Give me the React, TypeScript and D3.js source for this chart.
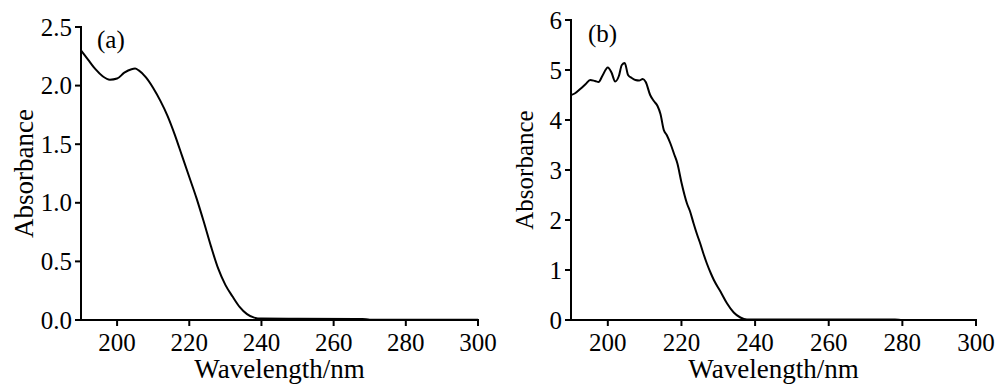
import * as d3 from 'd3';

// panel (a) spectrum
const wavelengthA = [190, 192, 194, 196, 198, 200, 202, 204, 205, 206, 208, 210, 212, 214, 216, 218, 220, 222, 224, 226, 228, 230, 232, 234, 236, 238, 240, 250, 268, 270, 300];
const absorbanceA = [2.30, 2.22, 2.14, 2.08, 2.05, 2.06, 2.11, 2.14, 2.145, 2.13, 2.07, 1.98, 1.87, 1.74, 1.58, 1.40, 1.22, 1.04, 0.84, 0.63, 0.44, 0.30, 0.20, 0.11, 0.05, 0.02, 0.012, 0.01, 0.008, 0.003, 0.003];

// panel (b) spectrum
const wavelengthB = [190, 191, 192.5, 194, 195.2, 196.5, 197.5, 198.5, 200, 201, 202, 203, 203.8, 204.6, 205.5, 206.5, 207.5, 208.5, 209.5, 210.3, 211.5, 212.5, 213.5, 214.3, 215.2, 216, 217, 218, 218.9, 220, 221.5, 222.3, 223.3, 224.2, 225.1, 226, 226.9, 228, 228.8, 230.6, 232.4, 234.2, 236, 237.8, 278, 280, 300];
const absorbanceB = [4.50, 4.53, 4.62, 4.72, 4.80, 4.78, 4.76, 4.88, 5.05, 4.95, 4.77, 4.88, 5.10, 5.14, 4.90, 4.84, 4.80, 4.79, 4.82, 4.76, 4.50, 4.38, 4.28, 4.12, 3.80, 3.70, 3.53, 3.32, 3.13, 2.75, 2.33, 2.18, 1.93, 1.72, 1.53, 1.32, 1.13, 0.93, 0.80, 0.57, 0.33, 0.15, 0.05, 0.01, 0.01, 0.002, 0.002];

const xTicks = [200, 220, 240, 260, 280, 300];
const yTicksA = [0, 0.5, 1.0, 1.5, 2.0, 2.5];
const yTicksB = [0, 1, 2, 3, 4, 5, 6];

const SERIF = '"Liberation Serif", Tinos, "Nimbus Roman", FreeSerif';

interface PanelProps {
  left: number;
  right: number;
  top: number;
  bottom: number;
  yMax: number;
  yTicks: number[];
  yFormat: (d: number) => string;
  xs: number[];
  ys: number[];
  tag: string;
  tagX: number;
  tagY: number;
  yLabelX: number;
  yLabelSize: number;
}

function Panel(p: PanelProps) {
  const x = d3.scaleLinear().domain([190, 300]).range([p.left, p.right]);
  const y = d3.scaleLinear().domain([0, p.yMax]).range([p.bottom, p.top]);
  const pts = p.xs.map((w, i) => [w, p.ys[i]] as [number, number]);
  const line = d3.line<[number, number]>()
    .x(d => x(d[0]))
    .y(d => y(d[1]))
    .curve(d3.curveMonotoneX);

  return (
    <g>
      <line x1={p.left} x2={p.left} y1={p.top - 1} y2={p.bottom + 1} stroke="#000" strokeWidth={2} />
      <line x1={p.left - 1} x2={p.right + 1} y1={p.bottom} y2={p.bottom} stroke="#000" strokeWidth={2} />
      {xTicks.map(t => (
        <g key={t} transform={`translate(${x(t)},${p.bottom})`}>
          <line y1={0} y2={6} stroke="#000" strokeWidth={2} />
          <text y={31} textAnchor="middle" fontFamily={SERIF} fontSize={25}>{t}</text>
        </g>
      ))}
      {p.yTicks.map(t => (
        <g key={t} transform={`translate(${p.left},${y(t)})`}>
          <line x1={0} x2={-6} stroke="#000" strokeWidth={2} />
          <text x={-9} dy="0.34em" textAnchor="end" fontFamily={SERIF} fontSize={25}>{p.yFormat(t)}</text>
        </g>
      ))}
      <path d={line(pts) ?? ''} fill="none" stroke="#000" strokeWidth={2} />
      <text x={(p.left + p.right) / 2} y={378} textAnchor="middle" fontFamily={SERIF} fontSize={27}>Wavelength/nm</text>
      <text
        transform={`translate(${p.yLabelX},${(p.top + p.bottom) / 2}) rotate(-90)`}
        textAnchor="middle"
        fontFamily={SERIF}
        fontSize={p.yLabelSize}
      >
        Absorbance
      </text>
      <text x={p.tagX} y={p.tagY} fontFamily={SERIF} fontSize={25}>{p.tag}</text>
    </g>
  );
}

export default function App() {
  return (
    <svg width={1000} height={385} style={{ position: 'absolute', left: 0, top: 0, background: '#fff', fontFamily: SERIF }}>
      <Panel
        left={81} right={478} top={27} bottom={320}
        yMax={2.5} yTicks={yTicksA} yFormat={d => d.toFixed(1)}
        xs={wavelengthA} ys={absorbanceA}
        tag="(a)" tagX={97} tagY={48}
        yLabelX={33} yLabelSize={27}
      />
      <Panel
        left={571} right={976} top={20} bottom={320}
        yMax={6} yTicks={yTicksB} yFormat={d => String(d)}
        xs={wavelengthB} ys={absorbanceB}
        tag="(b)" tagX={588} tagY={42}
        yLabelX={533} yLabelSize={25}
      />
    </svg>
  );
}
